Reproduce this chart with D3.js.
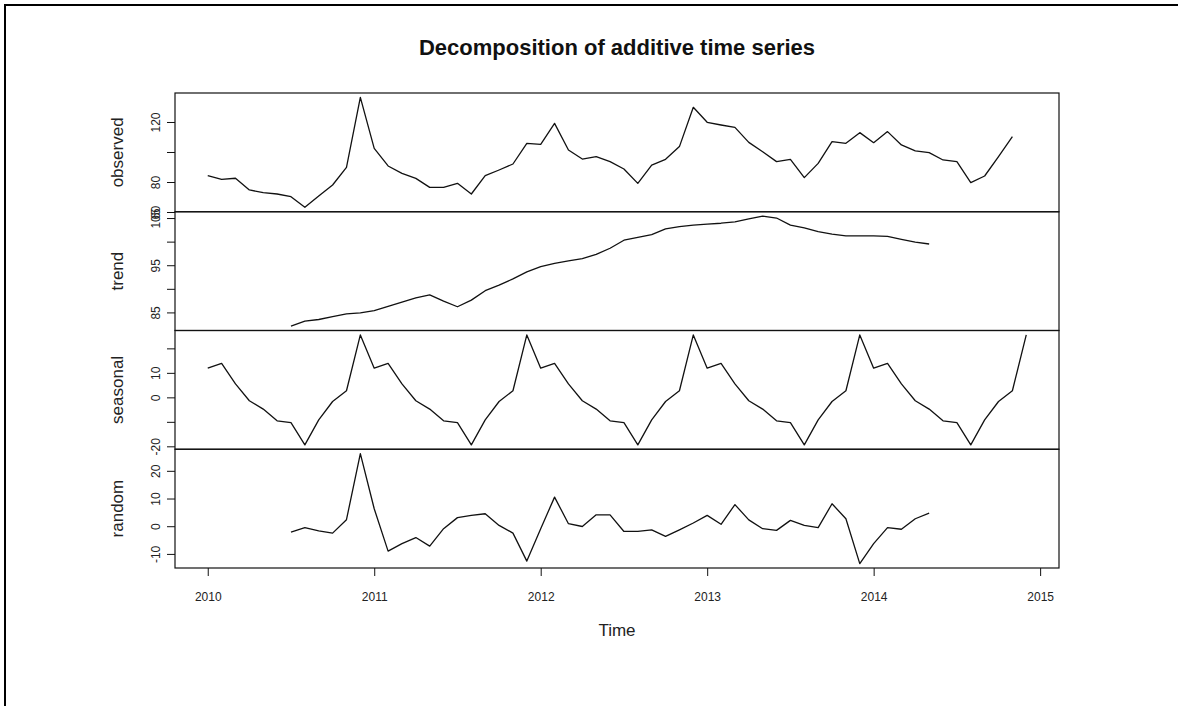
<!DOCTYPE html>
<html>
<head>
<meta charset="utf-8">
<script src="https://cdn.jsdelivr.net/npm/d3@7"></script>
<style>
    body { margin: 0; background: #fff; }
    svg { display: block; font-family: "Liberation Sans", Arial, sans-serif; }
</style>
</head>
<body>
<div id="chart"></div>
<script>
// monthly series, Jan 2010 .. Dec 2014 (null = NA)
const startYear = 2010;
const frequency = 12;

const observed = [
    84.2, 81.8, 82.5, 74.7, 72.9, 72.0, 70.2, 63.1, 70.7, 78.0, 89.8, 136.4,
    102.4, 90.7, 85.8, 82.4, 76.4, 76.4, 79.1, 72.0, 84.2, 88.0, 92.0, 105.8,
    105.1, 119.1, 101.3, 95.3, 96.9, 93.6, 88.7, 79.1, 91.3, 95.1, 103.6, 129.8,
    119.8, 118.0, 116.4, 106.4, 100.2, 93.6, 95.1, 82.9, 92.4, 106.9, 105.8, 112.9,
    106.2, 113.6, 104.7, 100.7, 99.6, 94.7, 93.6, 79.6, 84.0, 96.9, 110.2, null
];

const trend = [
    null, null, null, null, null, null, 82.1, 83.15, 83.5, 84.1, 84.7, 84.9,
    85.4, 86.3, 87.2, 88.1, 88.7, 87.4, 86.2, 87.6, 89.6, 90.8, 92.1, 93.6,
    94.7, 95.4, 95.9, 96.4, 97.3, 98.6, 100.3, 100.9, 101.5, 102.7, 103.2, 103.5,
    103.7, 103.9, 104.2, 104.8, 105.4, 105.0, 103.5, 102.9, 102.1, 101.6, 101.2, 101.2,
    101.2, 101.1, 100.5, 99.9, 99.5, null, null, null, null, null, null, null
];

const seasonal = [
    11.9, 13.9, 5.5, -1.4, -4.8, -9.6, -10.3, -19.4, -9.2, -1.7, 2.7, 25.5,
    11.9, 13.9, 5.5, -1.4, -4.8, -9.6, -10.3, -19.4, -9.2, -1.7, 2.7, 25.5,
    11.9, 13.9, 5.5, -1.4, -4.8, -9.6, -10.3, -19.4, -9.2, -1.7, 2.7, 25.5,
    11.9, 13.9, 5.5, -1.4, -4.8, -9.6, -10.3, -19.4, -9.2, -1.7, 2.7, 25.5,
    11.9, 13.9, 5.5, -1.4, -4.8, -9.6, -10.3, -19.4, -9.2, -1.7, 2.7, 25.5
];

const random = [
    null, null, null, null, null, null, -2.1, -0.5, -1.7, -2.5, 2.35, 26.2,
    6.3, -9.0, -6.3, -4.1, -7.2, -0.9, 3.1, 3.9, 4.5, 0.3, -2.5, -12.6,
    -0.9, 10.5, 0.9, -0.1, 4.1, 4.1, -1.9, -1.9, -1.3, -3.7, -1.3, 1.15,
    3.9, 0.7, 7.8, 2.3, -0.9, -1.5, 2.1, 0.3, -0.5, 8.1, 2.7, -13.5,
    -6.3, -0.5, -1.1, 2.7, 4.7, null, null, null, null, null, null, null
];

const panelNames = ["observed", "trend", "seasonal", "random"];

// y ticks per panel, and the ones that R actually labelled
const observedTicks = [60, 80, 100, 120];
const observedLabels = [60, 80, 120];
const trendTicks = [85, 90, 95, 100, 105];
const trendLabels = [85, 95, 105];
const seasonalTicks = [-20, -10, 0, 10, 20];
const seasonalLabels = [-20, 0, 10];
const randomTicks = [-10, 0, 10, 20];
const randomLabels = [-10, 0, 10, 20];

const yearTicks = [2010, 2011, 2012, 2013, 2014, 2015];

const titleText = "Decomposition of additive time series";
const xTitle = "Time";


function DecompositionChart() {
}

DecompositionChart.prototype.init = function (targetId) {
    this.width = 1178;
    this.height = 706;

    this.plot = {
        left: 175,
        right: 1059,
        top: 93,
        bottom: 568
    };
    this.panelHeight = (this.plot.bottom - this.plot.top) / 4;

    this.target = document.getElementById(targetId);
};

// R style range: data extent padded 4% on each side
function paddedExtent(values) {
    let ext = d3.extent(values.filter(function (v) { return v != null; }));
    let pad = (ext[1] - ext[0]) * 0.04;
    return [ext[0] - pad, ext[1] + pad];
}

DecompositionChart.prototype.render = function () {
    let self = this;
    let times = observed.map(function (d, i) {
        return startYear + i / frequency;
    });

    let svg = d3.select(this.target)
        .append("svg")
        .attr("width", this.width)
        .attr("height", this.height);

    // outer frame of the screenshot (top and left edges only)
    svg.append("path")
        .attr("d", "M5,706 V5 H1178")
        .attr("fill", "none")
        .attr("stroke", "#000")
        .attr("stroke-width", 2);

    this.x = d3.scaleLinear()
        .domain(paddedExtent(times))
        .range([this.plot.left, this.plot.right]);

    let panels = [
        { name: panelNames[0], values: observed, ticks: observedTicks, labels: observedLabels },
        { name: panelNames[1], values: trend, ticks: trendTicks, labels: trendLabels },
        { name: panelNames[2], values: seasonal, ticks: seasonalTicks, labels: seasonalLabels },
        { name: panelNames[3], values: random, ticks: randomTicks, labels: randomLabels }
    ];

    panels.forEach(function (p, k) {
        let top = self.plot.top + k * self.panelHeight;
        let bottom = top + self.panelHeight;

        let y = d3.scaleLinear()
            .domain(paddedExtent(p.values))
            .range([bottom, top]);

        let line = d3.line()
            .defined(function (d) { return d != null; })
            .x(function (d, i) { return self.x(times[i]); })
            .y(function (d) { return y(d); });

        svg.append("path")
            .datum(p.values)
            .attr("fill", "none")
            .attr("stroke", "#111")
            .attr("stroke-width", 1.3)
            .attr("stroke-linejoin", "round")
            .attr("d", line);

        // y axis, labels parallel to the axis
        let axis = svg.append("g")
            .attr("transform", "translate(" + self.plot.left + ",0)")
            .call(d3.axisLeft(y)
                .tickValues(p.ticks)
                .tickSize(8)
                .tickSizeOuter(0)
                .tickFormat(function (d) {
                    return p.labels.indexOf(d) >= 0 ? d : "";
                }));
        axis.select(".domain").remove();
        axis.selectAll("line").attr("stroke", "#111");
        axis.selectAll("text")
            .attr("x", null)
            .attr("dy", null)
            .attr("transform", "translate(-15,0) rotate(-90)")
            .attr("text-anchor", "middle")
            .attr("fill", "#222")
            .style("font-size", "12px");

        svg.append("text")
            .attr("transform", "translate(123," + (top + bottom) / 2 + ") rotate(-90)")
            .attr("text-anchor", "middle")
            .attr("fill", "#222")
            .style("font-size", "17px")
            .text(p.name);

        svg.append("rect")
            .attr("x", self.plot.left)
            .attr("y", top)
            .attr("width", self.plot.right - self.plot.left)
            .attr("height", self.panelHeight)
            .attr("fill", "none")
            .attr("stroke", "#111")
            .attr("stroke-width", 1.2);
    });

    // x axis under the last panel
    let xAxis = svg.append("g")
        .attr("transform", "translate(0," + this.plot.bottom + ")")
        .call(d3.axisBottom(this.x)
            .tickValues(yearTicks)
            .tickSize(8)
            .tickSizeOuter(0)
            .tickPadding(16)
            .tickFormat(d3.format("d")));
    xAxis.select(".domain").remove();
    xAxis.selectAll("line").attr("stroke", "#111");
    xAxis.selectAll("text")
        .attr("fill", "#222")
        .style("font-size", "12px");

    svg.append("text")
        .attr("x", (this.plot.left + this.plot.right) / 2)
        .attr("y", 636)
        .attr("text-anchor", "middle")
        .attr("fill", "#222")
        .style("font-size", "17px")
        .text(xTitle);

    svg.append("text")
        .attr("x", (this.plot.left + this.plot.right) / 2)
        .attr("y", 55)
        .attr("text-anchor", "middle")
        .attr("fill", "#111")
        .style("font-size", "22px")
        .style("font-weight", "bold")
        .text(titleText);
};

let chart = new DecompositionChart();
chart.init("chart");
chart.render();
</script>
</body>
</html>
